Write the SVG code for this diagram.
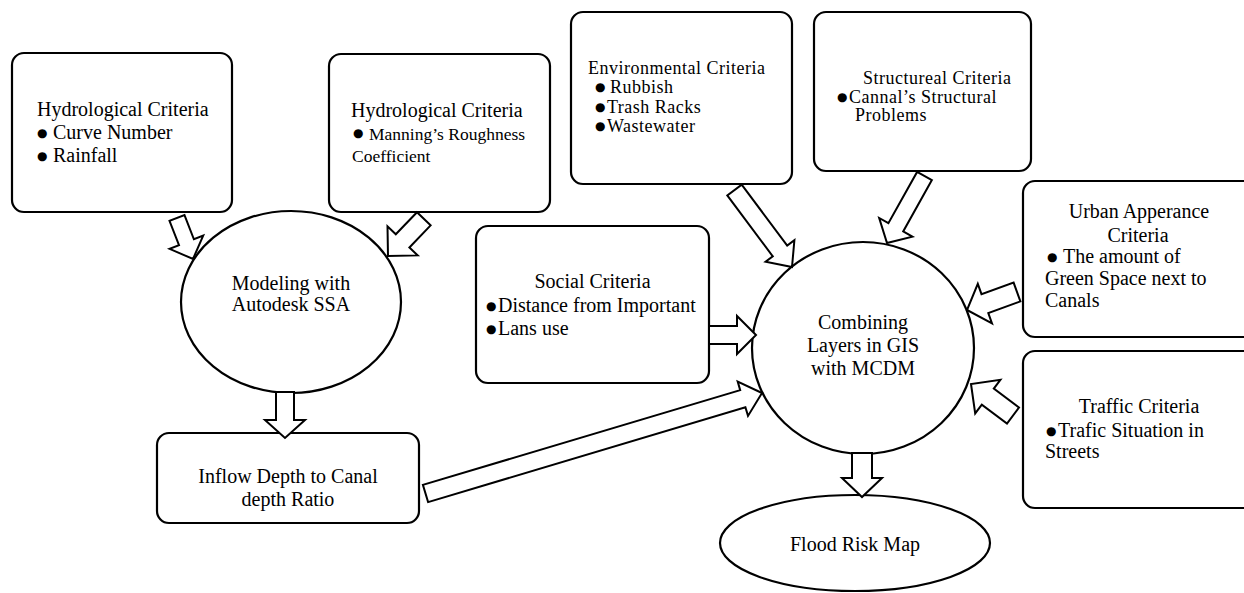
<svg xmlns="http://www.w3.org/2000/svg" width="1244" height="593" viewBox="0 0 1244 593">
<style>
  .box { fill: #ffffff; stroke: #000000; stroke-width: 2.2; }
  .arr { fill: #ffffff; stroke: #000000; stroke-width: 2; stroke-linejoin: miter; }
  text { font-family: "Liberation Serif", "Times New Roman", serif; font-size: 20px; fill: #000000; }
  .c { text-anchor: middle; }
  .s { font-size: 17.5px; }
  .t { font-size: 18px; letter-spacing: 0.5px; }
  .b { font-family: "DejaVu Sans", sans-serif; font-size: 12px; }
</style>
<rect width="1244" height="593" fill="#ffffff"/>

<g id="hydro1">
  <rect class="box" x="12" y="53" width="220" height="159" rx="12"/>
  <text x="37" y="116">Hydrological Criteria</text>
  <text class="b" x="37" y="137">●</text><text x="53" y="139">Curve Number</text>
  <text class="b" x="37" y="160">●</text><text x="53" y="162">Rainfall</text>
</g>

<g id="hydro2">
  <rect class="box" x="329" y="54" width="221" height="158" rx="12"/>
  <text x="351" y="117">Hydrological Criteria</text>
  <text class="b" x="353" y="137">●</text><text class="s" x="369" y="140">Manning’s Roughness</text>
  <text class="s" x="352" y="162">Coefficient</text>
</g>

<g id="environmental">
  <rect class="box" x="571" y="12" width="221" height="172" rx="12"/>
  <text class="t" x="588" y="74">Environmental Criteria</text>
  <text class="b" x="595" y="91">●</text><text class="t" x="610" y="93">Rubbish</text>
  <text class="b" x="595" y="111">●</text><text class="t" x="607" y="113">Trash Racks</text>
  <text class="b" x="595" y="130">●</text><text class="t" x="607" y="132">Wastewater</text>
</g>

<g id="structural">
  <rect class="box" x="814" y="12" width="217" height="159" rx="12"/>
  <text class="t" x="863" y="84">Structureal Criteria</text>
  <text class="b" x="837" y="101">●</text><text class="t" x="849" y="103">Cannal’s Structural</text>
  <text class="t" x="855" y="121">Problems</text>
</g>

<g id="social">
  <rect class="box" x="476" y="226" width="233" height="157" rx="12"/>
  <text class="c" x="592.5" y="288">Social Criteria</text>
  <text class="b" x="486" y="310">●</text><text x="498" y="312">Distance from Important</text>
  <text class="b" x="486" y="333">●</text><text x="498" y="335">Lans use</text>
</g>

<g id="urban">
  <rect class="box" x="1023" y="181" width="240" height="156" rx="12"/>
  <text class="c" x="1139" y="218">Urban Apperance</text>
  <text class="c" x="1138" y="242">Criteria</text>
  <text class="b" x="1047" y="261">●</text><text x="1063" y="263">The amount of</text>
  <text x="1045" y="285">Green Space next to</text>
  <text x="1045" y="307">Canals</text>
</g>

<g id="traffic">
  <rect class="box" x="1023" y="351" width="240" height="157" rx="12"/>
  <text class="c" x="1139" y="413">Traffic Criteria</text>
  <text class="b" x="1046" y="435">●</text><text x="1058" y="437">Trafic Situation in</text>
  <text x="1045" y="458">Streets</text>
</g>

<g id="inflow">
  <rect class="box" x="157" y="433" width="262" height="90" rx="12"/>
  <text class="c" x="288" y="483">Inflow Depth to Canal</text>
  <text class="c" x="288" y="506">depth Ratio</text>
</g>

<g id="modeling">
  <ellipse class="box" cx="291" cy="302" rx="110" ry="91"/>
  <text class="c" x="291" y="290">Modeling with</text>
  <text class="c" x="291" y="311">Autodesk SSA</text>
</g>

<g id="combining">
  <ellipse class="box" cx="863" cy="348" rx="111" ry="106"/>
  <text class="c" x="863" y="329">Combining</text>
  <text class="c" x="863" y="352">Layers in GIS</text>
  <text class="c" x="863" y="375">with MCDM</text>
</g>

<g id="floodmap">
  <ellipse class="box" cx="855" cy="543" rx="135" ry="48"/>
  <text class="c" x="855" y="551">Flood Risk Map</text>
</g>

<g id="connectors">
  <polygon class="arr" points="184.5,215.1 193.9,239.3 203.2,235.6 193,259 169.6,248.8 179,245.1 169.5,220.9"/>
  <polygon class="arr" points="430.6,225.4 409.4,247.5 417.7,255.4 388,256 387.5,226.3 395.8,234.3 417,212.2"/>
  <polygon class="arr" points="276,392 276,420 265,420 285,438 305,420 294,420 294,392"/>
  <polygon class="arr" points="428.1,502.1 745.4,407.3 748,415.9 762,393 737.7,381.5 740.2,390.1 422.9,484.9"/>
  <polygon class="arr" points="709,326 737,326 737,316 756,335 737,354 737,344 709,344"/>
  <polygon class="arr" points="741.7,184.6 787.2,245.6 794.4,240.2 792,267 765.6,261.8 772.8,256.4 727.3,195.4"/>
  <polygon class="arr" points="931.9,180.1 903.2,231.4 912.4,236.6 887,243 879.2,218 888.4,223.2 917.1,171.9"/>
  <polygon class="arr" points="1020.4,301.4 988.3,313 992,323.4 967,310 977.8,283.8 981.5,294.2 1013.6,282.6"/>
  <polygon class="arr" points="1019,407.5 993.8,388.6 1000.4,379.8 971,384 975.2,413.4 981.8,404.6 1007,423.5"/>
  <polygon class="arr" points="852,453 852,478 842,478 862,497 882,478 872,478 872,453"/>
</g>
</svg>
